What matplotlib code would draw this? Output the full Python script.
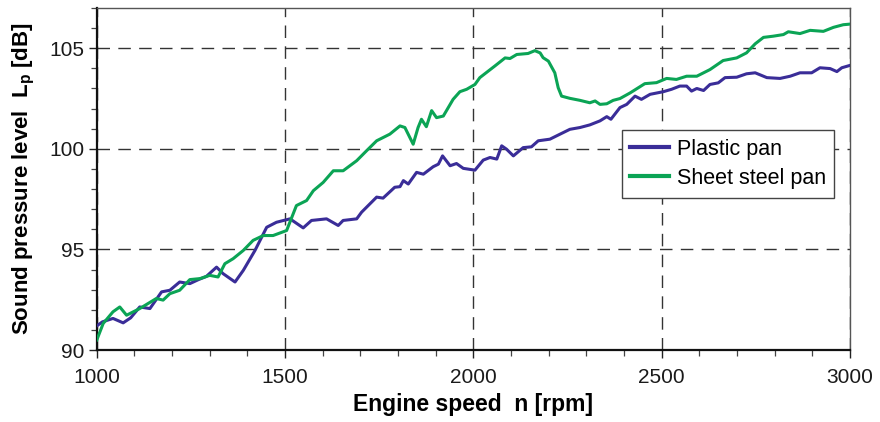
import matplotlib.pyplot as plt
from matplotlib.ticker import MultipleLocator

# Sound pressure level over engine speed, two oil pan variants
plastic_rpm = [1000, 1015, 1043, 1070, 1090, 1114, 1141, 1172, 1194, 1220, 1247, 1270,
               1291, 1318, 1335, 1367, 1389, 1420, 1451, 1477, 1513, 1548, 1570, 1610,
               1641, 1654, 1690, 1703, 1743, 1760, 1791, 1805, 1814, 1827, 1849, 1867,
               1893, 1907, 1918, 1938, 1955, 1973, 2004, 2026, 2044, 2062, 2075, 2088,
               2106, 2132, 2154, 2172, 2203, 2230, 2256, 2283, 2309, 2336, 2354, 2365,
               2389, 2407, 2429, 2446, 2469, 2504, 2526, 2548, 2566, 2579, 2593, 2611,
               2628, 2650, 2668, 2699, 2725, 2748, 2779, 2814, 2841, 2867, 2898, 2920,
               2947, 2965, 2978, 3000]
plastic_db = [91.2, 91.4, 91.57, 91.35, 91.6, 92.14, 92.06, 92.89, 92.97, 93.38, 93.3, 93.5,
              93.66, 94.12, 93.8, 93.38, 93.96, 94.95, 96.1, 96.35, 96.52, 96.07, 96.44, 96.52,
              96.19, 96.44, 96.52, 96.85, 97.6, 97.55, 98.09, 98.12, 98.42, 98.25, 98.83, 98.74,
              99.11, 99.24, 99.65, 99.16, 99.27, 99.03, 98.94, 99.44, 99.57, 99.49, 100.15, 99.98,
              99.65, 100.06, 100.1, 100.4, 100.48, 100.73, 100.97, 101.06, 101.19, 101.39, 101.6, 101.47,
              102.05, 102.21, 102.62, 102.46, 102.71, 102.84, 102.96, 103.12, 103.12, 102.87, 103.0, 102.9,
              103.2, 103.28, 103.54, 103.56, 103.73, 103.78, 103.54, 103.5, 103.61, 103.78, 103.78, 104.03,
              103.99, 103.84, 104.03, 104.15]

steel_rpm = [1000, 1017, 1043, 1061, 1079, 1114, 1158, 1176, 1194, 1220, 1247, 1274,
             1300, 1322, 1340, 1362, 1389, 1415, 1442, 1468, 1504, 1530, 1557, 1575,
             1601, 1628, 1654, 1690, 1716, 1743, 1778, 1805, 1818, 1840, 1853, 1862,
             1875, 1889, 1902, 1920, 1946, 1964, 1982, 2004, 2017, 2057, 2084, 2097,
             2115, 2145, 2163, 2177, 2185, 2199, 2216, 2225, 2234, 2256, 2283, 2309,
             2323, 2336, 2354, 2371, 2389, 2416, 2455, 2486, 2513, 2539, 2566, 2593,
             2628, 2663, 2699, 2725, 2748, 2770, 2796, 2823, 2836, 2867, 2894, 2929,
             2956, 2982, 3000]
steel_db = [90.5, 91.32, 91.9, 92.14, 91.73, 92.06, 92.56, 92.48, 92.8, 92.97, 93.5, 93.55,
            93.71, 93.63, 94.29, 94.54, 94.95, 95.45, 95.69, 95.69, 95.94, 97.18, 97.43, 97.92,
            98.33, 98.91, 98.91, 99.41, 99.9, 100.4, 100.73, 101.14, 101.06, 100.23, 101.06, 101.47,
            101.1, 101.9, 101.55, 101.63, 102.46, 102.84, 102.96, 103.2, 103.54, 104.12, 104.52, 104.49,
            104.69, 104.74, 104.88, 104.77, 104.53, 104.36, 103.78, 103.04, 102.62, 102.51, 102.41, 102.29,
            102.38, 102.21, 102.24, 102.41, 102.5, 102.78, 103.24, 103.29, 103.5, 103.45, 103.61, 103.61,
            103.94, 104.39, 104.52, 104.77, 105.22, 105.54, 105.6, 105.68, 105.82, 105.73, 105.89, 105.84,
            106.04, 106.17, 106.2]

x_ticks = [1000, 1500, 2000, 2500, 3000]
y_ticks = [90, 95, 100, 105]

BLUE, GREEN = "#3a2d98", "#0ba455"
FACE = "Liberation Sans"

plt.rcParams["font.family"] = [FACE, "DejaVu Sans"]
plt.rcParams["mathtext.fontset"] = "custom"
plt.rcParams["mathtext.rm"] = FACE
plt.rcParams["mathtext.bf"] = FACE + ":bold"

fig = plt.figure(figsize=(8.8, 4.22), dpi=100)
ax = fig.add_axes([0.110, 0.1706, 0.856, 0.8104])

ax.plot(plastic_rpm, plastic_db, color=BLUE, lw=2.2, label="Plastic pan", zorder=3)
ax.plot(steel_rpm, steel_db, color=GREEN, lw=2.2, label="Sheet steel pan", zorder=3)

ax.set_xlim(1000, 3000)
ax.set_ylim(90, 107)
ax.set_xticks(x_ticks)
ax.set_yticks(y_ticks)
ax.xaxis.set_minor_locator(MultipleLocator(100))
ax.yaxis.set_minor_locator(MultipleLocator(1))
ax.tick_params(which="major", direction="out", length=6, width=1, labelsize=15,
               color="#222222", labelcolor="#1a1a1a", pad=3)
ax.tick_params(axis="x", which="major", pad=7)
ax.tick_params(which="minor", direction="out", length=4, width=0.9, color="#444444")

ax.grid(True, which="major", color="#333333", lw=1.0, linestyle=(0, (9, 6)), zorder=1)
ax.set_axisbelow(True)

for side in ("left", "bottom"):
    ax.spines[side].set_linewidth(1.6)
    ax.spines[side].set_color("#111111")
for side in ("top", "right"):
    ax.spines[side].set_linewidth(1.0)
    ax.spines[side].set_color("#555555")

ax.set_xlabel("Engine speed  n [rpm]", fontsize=16.5, fontweight="bold", labelpad=4)
ax.set_ylabel(r"Sound pressure level  L$_{\mathbf{p}}$ [dB]", fontsize=16,
              fontweight="bold", labelpad=9)

leg = ax.legend(loc="upper left", bbox_to_anchor=(0.697, 0.643), fontsize=15.5,
                frameon=True, fancybox=False, handlelength=1.8, handletextpad=0.35,
                borderpad=0.4, labelspacing=0.38, borderaxespad=0)
leg.get_frame().set_edgecolor("#444444")
leg.get_frame().set_linewidth(1.0)
leg.get_frame().set_alpha(1)
for line in leg.get_lines():
    line.set_linewidth(3)

fig.savefig("out.png", dpi=100)
